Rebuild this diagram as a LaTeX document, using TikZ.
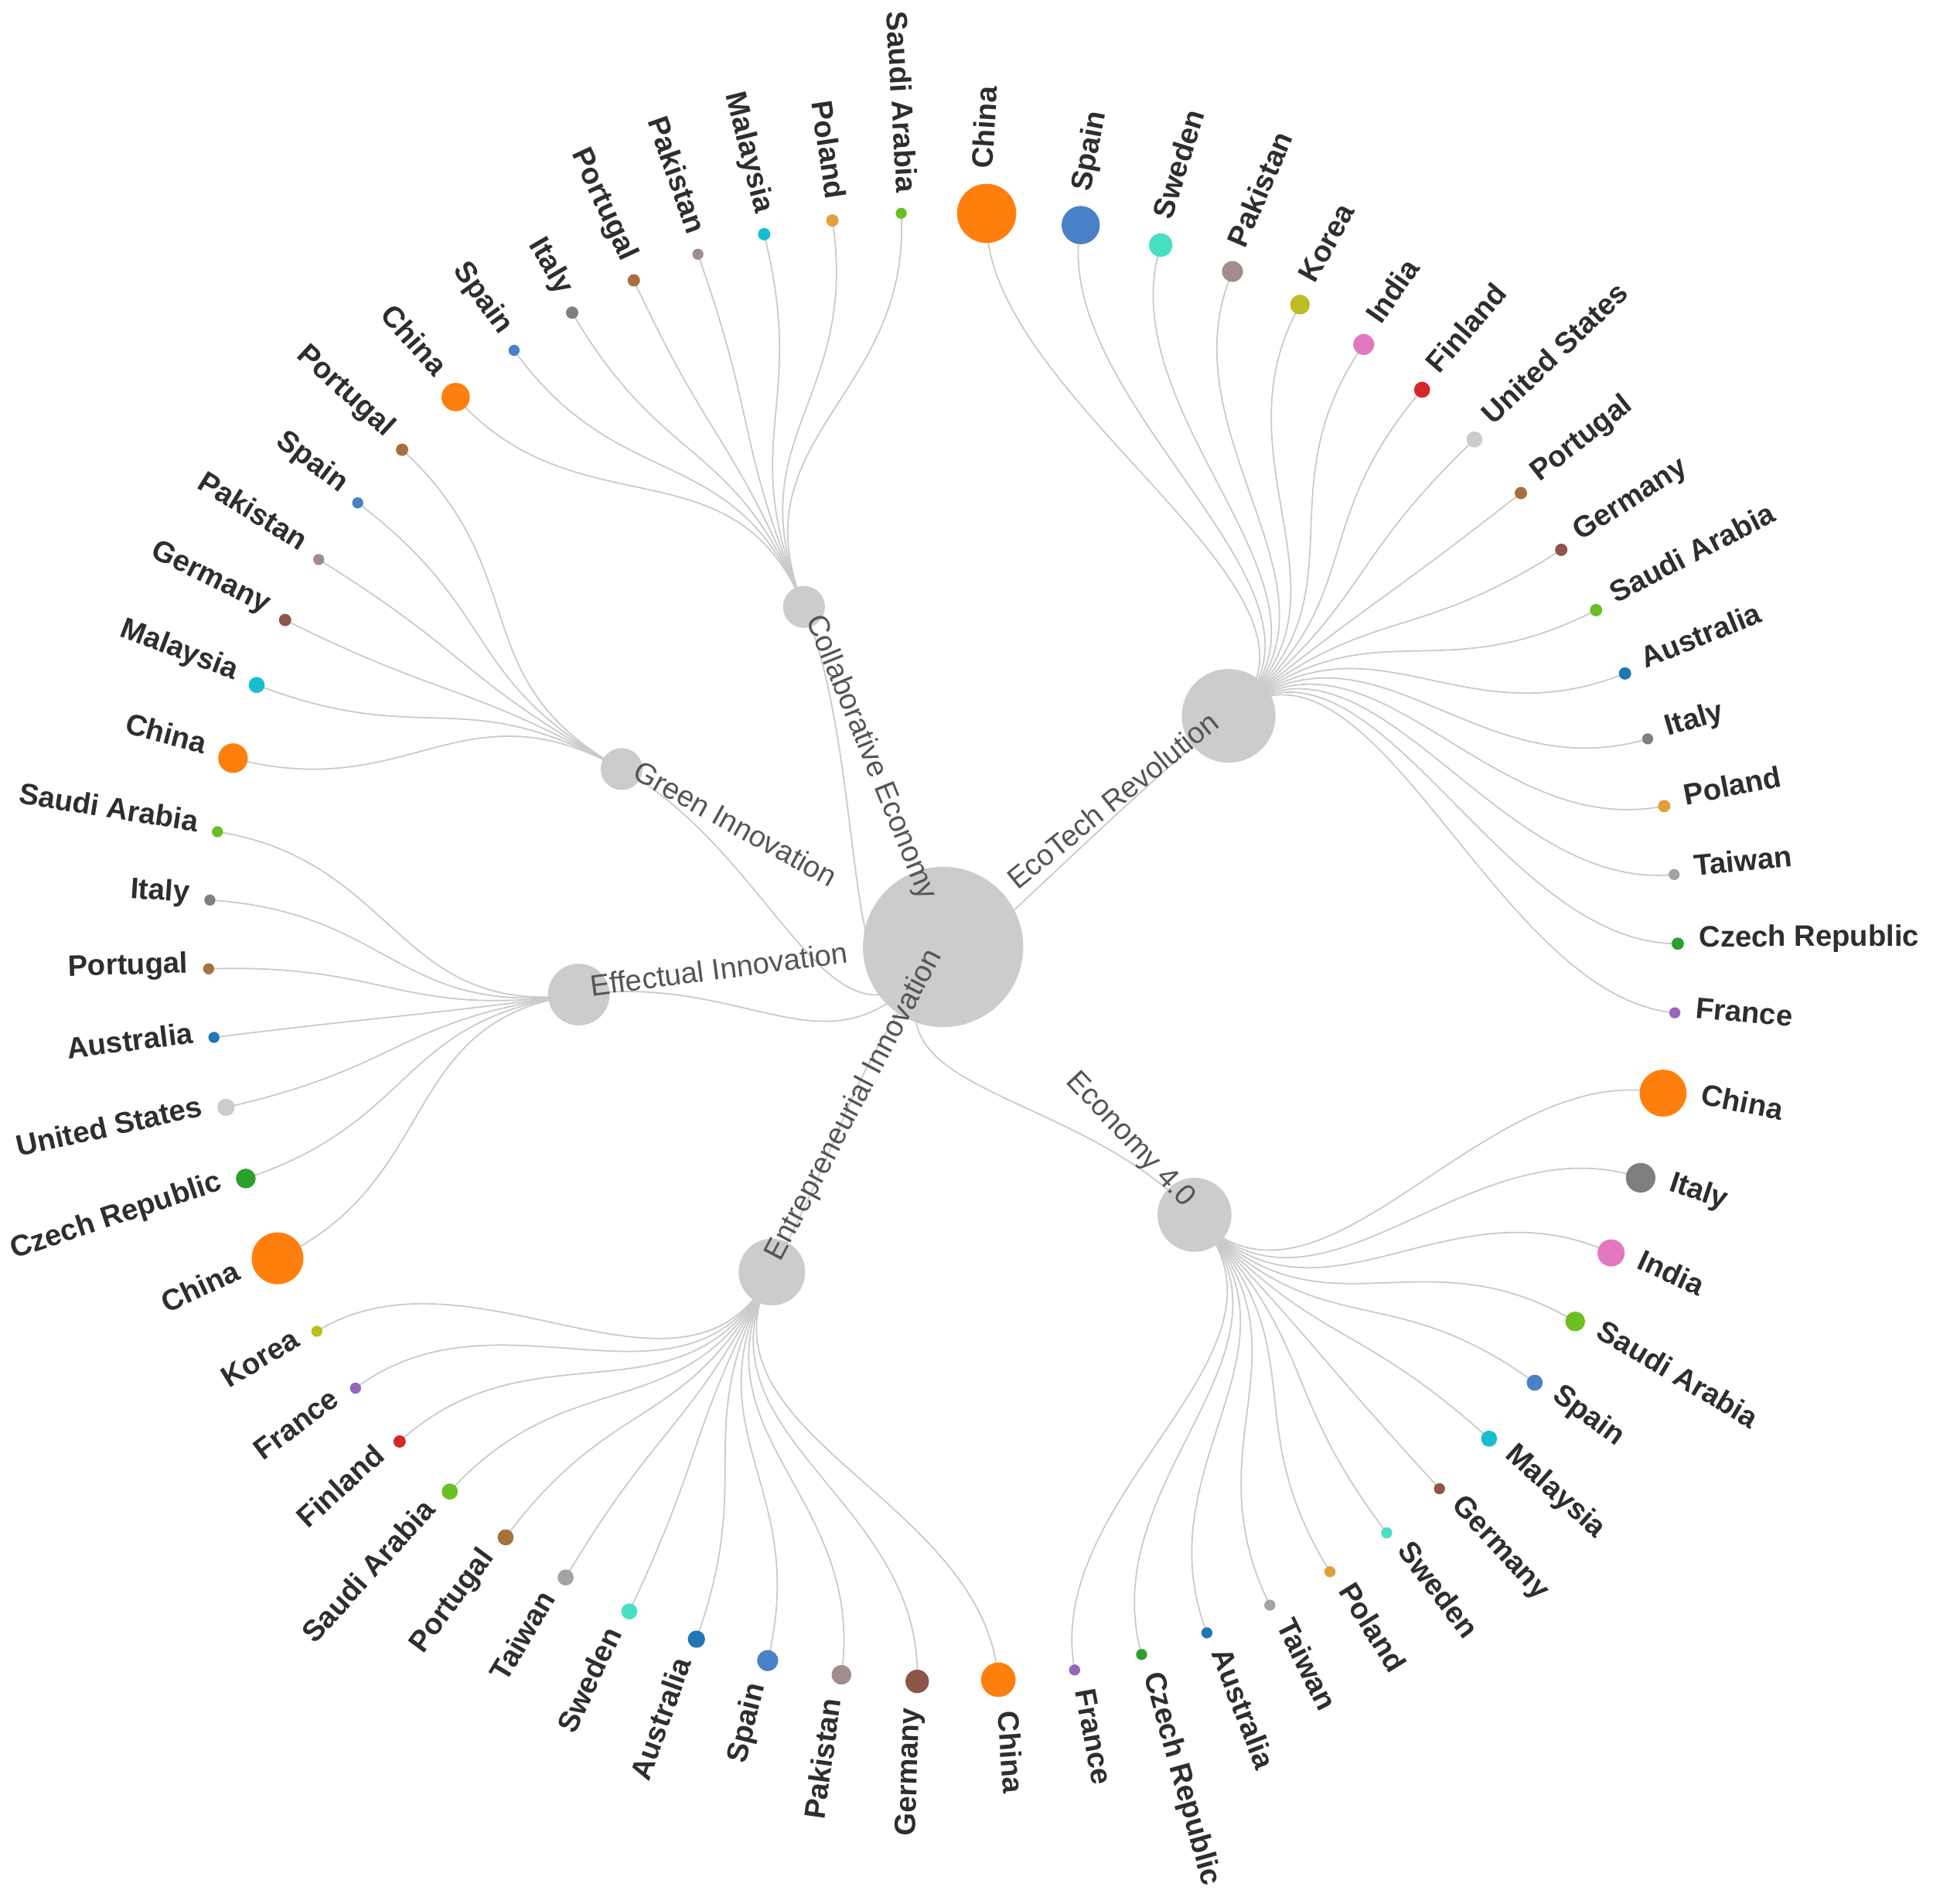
\documentclass[tikz,border=0pt]{standalone}
\usepackage{fontspec}
\setmainfont{Liberation Sans}
\usetikzlibrary{backgrounds}
\definecolor{cOr}{HTML}{FF7F0E}
\definecolor{cSp}{HTML}{4A80C6}
\definecolor{cSw}{HTML}{48E0C4}
\definecolor{cPk}{HTML}{A38C8C}
\definecolor{cKo}{HTML}{BCBD22}
\definecolor{cIn}{HTML}{E377C2}
\definecolor{cFi}{HTML}{D62728}
\definecolor{cUS}{HTML}{CCCCCC}
\definecolor{cPt}{HTML}{A8703C}
\definecolor{cDe}{HTML}{8C564B}
\definecolor{cSa}{HTML}{6ABF22}
\definecolor{cAu}{HTML}{1F77B4}
\definecolor{cIt}{HTML}{7F7F7F}
\definecolor{cPl}{HTML}{E0A03A}
\definecolor{cTw}{HTML}{A3A3A3}
\definecolor{cCz}{HTML}{2CA02C}
\definecolor{cFr}{HTML}{9467BD}
\definecolor{cMy}{HTML}{17BECF}
\definecolor{cInner}{HTML}{CCCCCC}
\definecolor{cLink}{HTML}{CACACA}
\definecolor{cTxt}{HTML}{2E2E2E}
\definecolor{cInTxt}{HTML}{555555}
% leaf lists: label/colour/radius
\def\listEcoT{China/cOr/24, Spain/cSp/15.5, Sweden/cSw/9.5, Pakistan/cPk/8.5, Korea/cKo/8, India/cIn/8.5, Finland/cFi/6.5, United States/cUS/6.5, Portugal/cPt/5, Germany/cDe/5, Saudi Arabia/cSa/5, Australia/cAu/5, Italy/cIt/4.5, Poland/cPl/5, Taiwan/cTw/4.5, Czech Republic/cCz/5, France/cFr/4.5}
\def\listEcoF{China/cOr/19, Italy/cIt/12, India/cIn/11, Saudi Arabia/cSa/8, Spain/cSp/6.5, Malaysia/cMy/6.5, Germany/cDe/4.5, Sweden/cSw/4.5, Poland/cPl/4.5, Taiwan/cTw/4.5, Australia/cAu/4.5, Czech Republic/cCz/4.5, France/cFr/4.5}
\def\listEntr{China/cOr/14, Germany/cDe/9.5, Pakistan/cPk/8, Spain/cSp/8.5, Australia/cAu/7, Sweden/cSw/6.5, Taiwan/cTw/6.5, Portugal/cPt/6.5, Saudi Arabia/cSa/6.5, Finland/cFi/5, France/cFr/4.5, Korea/cKo/4.5}
\def\listEffe{China/cOr/21, Czech Republic/cCz/8, United States/cUS/7, Australia/cAu/4.5, Portugal/cPt/4.5, Italy/cIt/4.5, Saudi Arabia/cSa/4.5}
\def\listGree{China/cOr/12, Malaysia/cMy/6.5, Germany/cDe/5, Pakistan/cPk/4.5, Spain/cSp/4.5, Portugal/cPt/5}
\def\listColl{China/cOr/11.5, Spain/cSp/4.5, Italy/cIt/5, Portugal/cPt/5, Pakistan/cPk/4.5, Malaysia/cMy/5, Poland/cPl/5, Saudi Arabia/cSa/4.5}
\def\thzero{86.6}
\def\gb{0.0667}
\gdef\rsum{0}
\newcommand\addradii[1]{%
  \foreach \lab/\col/\rad in #1 {\pgfmathsetmacro\tmpa{\rsum+\rad}\xdef\rsum{\tmpa}}}
\newcommand\computegroup[3]{% #1 name, #2 first index, #3 list
  \gdef\gsum{0}\gdef\gn{0}%
  \foreach \lab/\col/\rad [count=\i from 0] in #3 {%
    \pgfmathtruncatemacro\k{#2+\i}%
    \ifnum\k=0 \pgfmathsetmacro\th{\thzero}\else
      \pgfmathsetmacro\th{\curth-\ga-\gb*(\prevr+\rad)}\fi
    \xdef\curth{\th}\xdef\prevr{\rad}%
    \expandafter\xdef\csname th\k\endcsname{\th}%
    \pgfmathsetmacro\tmpa{\gsum+\th}\xdef\gsum{\tmpa}%
    \pgfmathtruncatemacro\tmpb{\gn+1}\xdef\gn{\tmpb}%
  }%
  \pgfmathsetmacro\tmpa{\gsum/\gn}%
  \expandafter\xdef\csname thp#1\endcsname{\tmpa}%
}
\newcommand\leafgroup[3]{% #1 parent node, #2 first index, #3 list
  \pgfmathsetmacro\thp{\csname thp#1\endcsname}%
  \foreach \lab/\col/\rad [count=\i from 0] in #3 {%
    \pgfmathtruncatemacro\k{#2+\i}%
    \pgfmathsetmacro\th{\csname th\k\endcsname}%
    \pgfmathsetmacro\lr{596+\rad+12}%
    \node[leafdot, fill=\col, minimum size={2*\rad}] (L\k) at (\th:596) {};
    \begin{pgfonlayer}{background}
      \draw[link] (#1.center) .. controls (\thp:447) and (\th:447) .. (L\k.center);
    \end{pgfonlayer}
    \ifdim\th pt>-90pt
      \node[lbl, anchor=mid west, rotate=\th] (T\k) at (\th:\lr) {\lab};
    \else
      \node[lbl, anchor=mid east, rotate=\th+180] (T\k) at (\th:\lr) {\lab};
    \fi
  }%
}
\begin{document}
\begin{tikzpicture}[x=1pt,y=1pt,
  link/.style={draw=cLink, line width=1.1pt},
  leafdot/.style={circle, inner sep=0pt, draw=none},
  innerdot/.style={circle, inner sep=0pt, draw=none, fill=cInner},
  lbl/.style={inner sep=0pt, text=cTxt, font=\bfseries\fontsize{24}{28}\selectfont},
  inlbl/.style={inner sep=0pt, text=cInTxt, font=\fontsize{24}{28}\selectfont}]
\addradii{\listEcoT}\addradii{\listEcoF}\addradii{\listEntr}
\addradii{\listEffe}\addradii{\listGree}\addradii{\listColl}
\pgfmathsetmacro\ga{(360-2*\gb*\rsum)/63}
\xdef\ga{\ga}
\computegroup{EcoT}{0}{\listEcoT}
\computegroup{EcoF}{17}{\listEcoF}
\computegroup{Entr}{30}{\listEntr}
\computegroup{Effe}{42}{\listEffe}
\computegroup{Gree}{49}{\listGree}
\computegroup{Coll}{55}{\listColl}
\pgfmathsetmacro\thr{(\thpEcoT+\thpEcoF+\thpEntr+\thpEffe+\thpGree+\thpColl)/6}
\useasboundingbox (-765,-776) rectangle (803,768);
\begin{pgfonlayer}{background}
  \fill[white] (-765,-776) rectangle (803,768);
\end{pgfonlayer}
\node[innerdot, minimum size=130] (R) at (0,0) {};
\foreach \nm/\rad/\lab in {EcoT/38/EcoTech Revolution, EcoF/30/Economy 4.0, Entr/27/Entrepreneurial Innovation, Effe/25/Effectual Innovation, Gree/17/Green Innovation, Coll/17/Collaborative Economy}{
  \pgfmathsetmacro\th{\csname thp\nm\endcsname}
  \node[innerdot, minimum size={2*\rad}] (\nm) at (\th:298) {};
  \begin{pgfonlayer}{background}
    \draw[link] (R.center) .. controls (\thr:149) and (\th:149) .. (\nm.center);
  \end{pgfonlayer}
  \ifdim\th pt>-90pt
    \node[inlbl, anchor=mid east, rotate=\th] (\nm T) at (\th:288) {\lab};
  \else
    \node[inlbl, anchor=mid west, rotate=\th+180] (\nm T) at (\th:288) {\lab};
  \fi
}
\leafgroup{EcoT}{0}{\listEcoT}
\leafgroup{EcoF}{17}{\listEcoF}
\leafgroup{Entr}{30}{\listEntr}
\leafgroup{Effe}{42}{\listEffe}
\leafgroup{Gree}{49}{\listGree}
\leafgroup{Coll}{55}{\listColl}
\end{tikzpicture}
\end{document}
